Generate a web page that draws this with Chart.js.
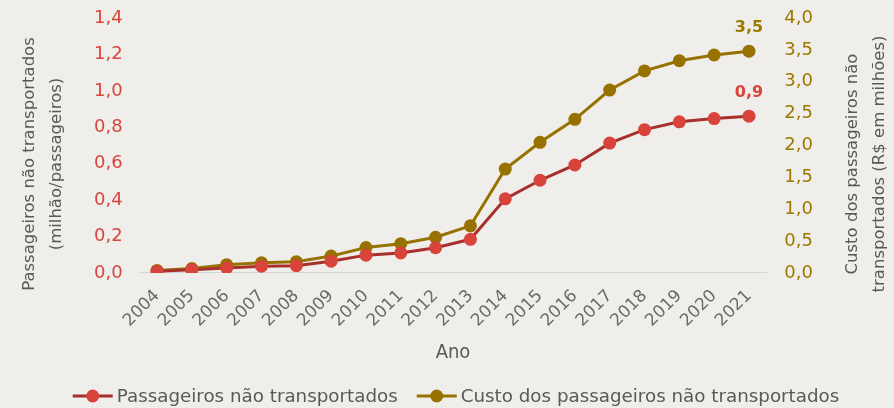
<!DOCTYPE html>
<html>
<head>
<meta charset="utf-8">
<script src="https://cdn.jsdelivr.net/npm/chart.js@4.4.0/dist/chart.umd.min.js"></script>
<style>
  body { margin: 0; background: #efeeeb; }
  #wrap { width: 894px; height: 408px; }
</style>
</head>
<body>
<div id="wrap"><canvas id="chart" width="894" height="408"></canvas></div>
<script>
// data
const anos = ["2004","2005","2006","2007","2008","2009","2010","2011","2012","2013","2014","2015","2016","2017","2018","2019","2020","2021"];
const passageiros = [0.01, 0.018, 0.028, 0.037, 0.04, 0.065, 0.098, 0.11, 0.139, 0.185, 0.407, 0.509, 0.593, 0.713, 0.787, 0.83, 0.848, 0.861];
const custo = [0.04, 0.07, 0.13, 0.16, 0.175, 0.265, 0.40, 0.46, 0.56, 0.74, 1.63, 2.05, 2.41, 2.87, 3.17, 3.33, 3.42, 3.48];
const rotuloFinal = ["0,9", "3,5"];
const tituloX = "Ano";
const tituloEsq = ["Passageiros não transportados", "(milhão/passageiros)"];
const tituloDir = ["Custo dos passageiros não", "transportados (R$ em milhões)"];

const RED_LINE = "#a8302c";
const RED_PT = "#d8433b";
const GOLD = "#977200";
const RED_TXT = "#d9443c";
const GOLD_TXT = "#9b7800";
const GRAY = "#595959";
const GRAY_TICK = "#6a6a6a";
const FONT = "'DejaVu Sans', sans-serif";
const FONT_C = "'DejaVu Sans Condensed', 'DejaVu Sans', sans-serif";

// background, axis titles, last-point labels and legend
const extras = {
    id: "extras",
    beforeDraw(chart) {
        const ctx = chart.ctx;
        ctx.save();
        ctx.fillStyle = "#efeeeb";
        ctx.fillRect(0, 0, chart.width, chart.height);
        ctx.restore();
    },
    afterDraw(chart) {
        const ctx = chart.ctx;
        const area = chart.chartArea;
        ctx.save();
        ctx.fillStyle = GRAY;
        ctx.textAlign = "center";
        ctx.textBaseline = "middle";

        // x title
        ctx.font = "20px " + FONT_C;
        ctx.fillText(tituloX, (area.left + area.right) / 2, 353);

        // y titles, both read bottom to top
        ctx.font = "16.5px " + FONT;
        const cy = 164;
        [[30, tituloEsq[0]], [57, tituloEsq[1]], [853, tituloDir[0]], [880, tituloDir[1]]].forEach(([x, t]) => {
            ctx.save();
            ctx.translate(x, cy);
            ctx.rotate(-Math.PI / 2);
            ctx.fillText(t, 0, 0);
            ctx.restore();
        });

        // last-point labels
        ctx.font = "bold 16px " + FONT;
        chart.data.datasets.forEach((ds, i) => {
            const meta = chart.getDatasetMeta(i);
            const pt = meta.data[meta.data.length - 1];
            ctx.fillStyle = i === 0 ? RED_TXT : GOLD_TXT;
            ctx.fillText(rotuloFinal[i], pt.x, pt.y - 23);
        });

        // legend: line + dot icon, then text
        ctx.font = "18.3px " + FONT;
        ctx.textAlign = "left";
        const iconW = 40, gap = 4, itemGap = 19, ly = 396;
        const items = chart.data.datasets.map(ds => ({ ds, w: ctx.measureText(ds.label).width }));
        let total = items.reduce((s, it) => s + iconW + gap + it.w, 0) + itemGap * (items.length - 1);
        let x = 456 - total / 2;
        items.forEach(it => {
            ctx.strokeStyle = it.ds.borderColor;
            ctx.lineWidth = 3;
            ctx.beginPath(); ctx.moveTo(x, ly); ctx.lineTo(x + iconW, ly); ctx.stroke();
            ctx.fillStyle = it.ds.pointBackgroundColor;
            ctx.beginPath(); ctx.arc(x + iconW / 2, ly, 6.5, 0, Math.PI * 2); ctx.fill();
            ctx.fillStyle = GRAY;
            ctx.fillText(it.ds.label, x + iconW + gap, ly + 1);
            x += iconW + gap + it.w + itemGap;
        });
        ctx.restore();
    }
};

// keep the plot area where the layout padding puts it
const noSidePad = s => { s.paddingLeft = 0; s.paddingRight = 0; };
const noEndPad = s => { s.paddingTop = 0; s.paddingBottom = 0; };
const fmt = v => v.toFixed(1).replace(".", ",");

new Chart(document.getElementById("chart"), {
    type: "line",
    data: {
        labels: anos,
        datasets: [
            {
                label: "Passageiros não transportados",
                data: passageiros,
                yAxisID: "y",
                borderColor: RED_LINE,
                backgroundColor: RED_PT,
                pointBackgroundColor: RED_PT,
                pointBorderWidth: 0,
                pointRadius: 6.5,
                borderWidth: 3
            },
            {
                label: "Custo dos passageiros não transportados",
                data: custo,
                yAxisID: "y1",
                borderColor: GOLD,
                backgroundColor: GOLD,
                pointBackgroundColor: GOLD,
                pointBorderWidth: 0,
                pointRadius: 6.5,
                borderWidth: 3
            }
        ]
    },
    options: {
        responsive: false,
        animation: false,
        layout: { padding: { left: 77, right: 63, top: 18, bottom: 64 } },
        plugins: {
            legend: { display: false },
            tooltip: { enabled: false }
        },
        scales: {
            x: {
                offset: true,
                afterFit: noSidePad,
                grid: { display: false, drawTicks: false },
                border: { color: "#d4d4d4", width: 1 },
                ticks: {
                    color: GRAY_TICK,
                    font: { family: FONT, size: 17 },
                    autoSkip: false,
                    maxRotation: 45,
                    minRotation: 45,
                    padding: 13
                }
            },
            y: {
                position: "left",
                min: 0,
                max: 1.4,
                afterFit: noEndPad,
                grid: { display: false, drawTicks: false },
                border: { display: false },
                ticks: {
                    stepSize: 0.2,
                    color: RED_TXT,
                    font: { family: FONT, size: 18 },
                    padding: 17,
                    callback: fmt
                }
            },
            y1: {
                position: "right",
                min: 0,
                max: 4,
                afterFit: noEndPad,
                grid: { display: false, drawTicks: false },
                border: { display: false },
                ticks: {
                    stepSize: 0.5,
                    color: GOLD_TXT,
                    font: { family: FONT, size: 18 },
                    padding: 18,
                    callback: fmt
                }
            }
        }
    },
    plugins: [extras]
});
</script>
</body>
</html>
